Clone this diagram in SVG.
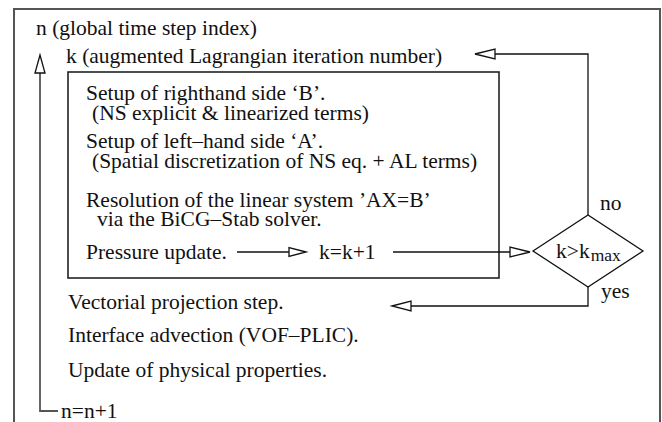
<svg xmlns="http://www.w3.org/2000/svg" width="662" height="422" viewBox="0 0 662 422">
<style>
text{font-family:"Liberation Serif","Times New Roman",serif;font-size:21.5px;fill:#111}
.ln{fill:none;stroke:#111;stroke-width:1.3}
.box{fill:none;stroke:#222;stroke-width:1.6}
.frame{fill:none;stroke:#555;stroke-width:2}
.loop{fill:none;stroke:#555;stroke-width:1.8}
.ah{fill:#fff;stroke:#111;stroke-width:1.3}
.sub{font-size:17.5px}
</style>
<rect width="662" height="422" fill="#fff"/>
<g id="frame"><path class="frame" d="M14,422 V9 H660 V422"/></g>
<g id="inner-box"><rect class="box" x="68" y="72" width="431" height="206"/></g>
<g id="connectors">
<path class="loop" d="M40,73 V411 H58"/>
<polygon class="ah" points="40,55 35,73 45,73"/>
<path class="ln" d="M588,215 V54 H495"/>
<polygon class="ah" points="475,54 495,49 495,59"/>
<path class="ln" d="M237,252 H289"/>
<polygon class="ah" points="306,252 289,247.5 289,256.5"/>
<path class="ln" d="M393,252 H510"/>
<polygon class="ah" points="530,252 510,247 510,257"/>
<path class="ln" d="M588,287 V306 H411"/>
<polygon class="ah" points="392,306 411,301 411,311"/>
</g>
<g id="decision">
<polygon class="ln" points="533,251 588,215 643,251 588,287"/>
<text x="556" y="258">k&gt;k<tspan class="sub" dx="1" dy="3">max</tspan></text>
</g>
<g id="labels">
<text x="600" y="210">no</text>
<text x="601" y="298">yes</text>
</g>
<g id="text-n"><text x="36" y="35">n (global time step index)</text></g>
<g id="text-k"><text x="66" y="63">k (augmented Lagrangian iteration number)</text></g>
<g id="step-rhs"><text x="86" y="100">Setup of righthand side ‘B’.</text><text x="92" y="120">(NS explicit &amp; linearized terms)</text></g>
<g id="step-lhs"><text x="86" y="148">Setup of left–hand side ‘A’.</text><text x="92" y="168">(Spatial discretization of NS eq. + AL terms)</text></g>
<g id="step-solve"><text x="86" y="207">Resolution of the linear system ’AX=B’</text><text x="97" y="226">via the BiCG–Stab solver.</text></g>
<g id="step-pressure"><text x="86" y="259">Pressure update.</text><text x="319" y="259">k=k+1</text></g>
<g id="step-proj"><text x="68" y="309">Vectorial projection step.</text></g>
<g id="step-adv"><text x="68" y="342">Interface advection (VOF–PLIC).</text></g>
<g id="step-props"><text x="68" y="377">Update of physical properties.</text></g>
<g id="step-n"><text x="61" y="418">n=n+1</text></g>
</svg>
